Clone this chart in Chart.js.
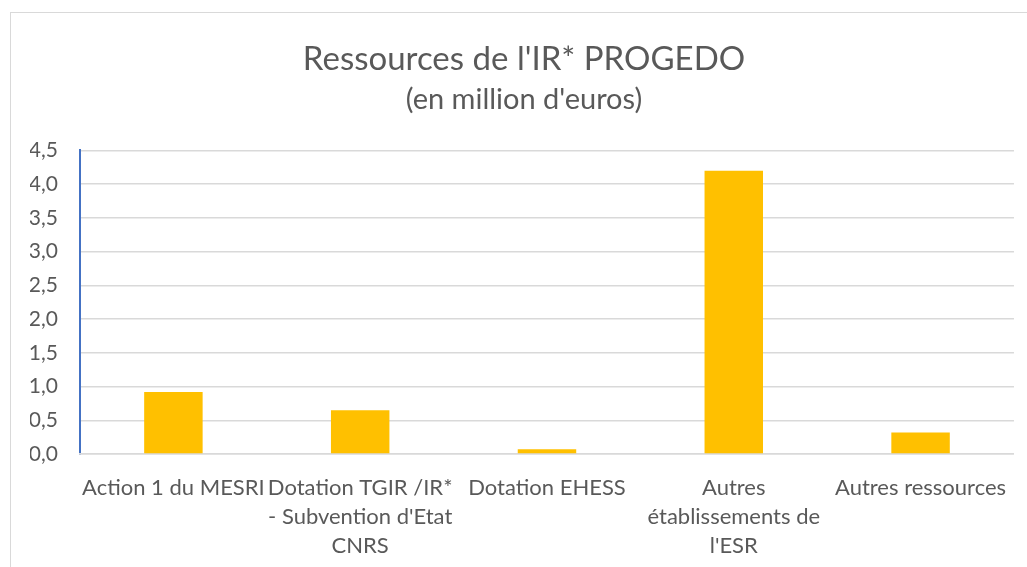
<!DOCTYPE html>
<html>
<head>
<meta charset="utf-8">
<script src="https://cdn.jsdelivr.net/npm/chart.js@4"></script>
<style>
  html, body { margin:0; padding:0; background:#fff; }
  #wrap { position:relative; width:1027px; height:567px; }
  #frame { position:absolute; left:10px; top:12px; width:1030px; height:600px; border:1px solid #D9D9D9; box-sizing:border-box; }
</style>
</head>
<body>
<div id="wrap">
  <div id="frame"></div>
  <canvas id="chart" width="1027" height="567"></canvas>
</div>
<script>
'use strict';

// ── Data ──────────────────────────────────────────────────────────────────────
const categories = [
  'Action 1 du MESRI',
  ['Dotation TGIR /IR*', "- Subvention d'Etat", 'CNRS'],
  'Dotation EHESS',
  ['Autres', 'établissements de', "l'ESR"],
  'Autres ressources'
];
const values = [0.92, 0.65, 0.07, 4.2, 0.32];
const yTicks = [0, 0.5, 1, 1.5, 2, 2.5, 3, 3.5, 4, 4.5];

const FONT = 'Lato, "Open Sans", sans-serif';
const TXT = '#595959';

new Chart(document.getElementById('chart'), {
  type: 'bar',
  data: {
    labels: categories,
    datasets: [{
      label: 'Ressources',
      data: values,
      backgroundColor: '#FFC000',
      barPercentage: 0.313,
      categoryPercentage: 1
    }]
  },
  options: {
    responsive: false, animation: false,
    layout: { padding: { left: 30, right: 9, top: 0, bottom: 0 } },
    plugins: {
      legend: { display: false },
      tooltip: { enabled: false },
      title: {
        display: true, text: "Ressources de l'IR* PROGEDO", color: TXT,
        font: { family: FONT, size: 33, weight: 'normal' },
        padding: { top: 40, bottom: 3 }
      },
      subtitle: {
        display: true, text: "(en million d'euros)", color: TXT,
        font: { family: FONT, size: 29, weight: 'normal' },
        padding: { top: 0, bottom: 33 }
      }
    },
    scales: {
      y: {
        min: 0, max: 4.5,
        afterBuildTicks: s => { s.ticks = yTicks.map(v => ({ value: v })); },
        afterFit: s => { s.width = 50; },
        ticks: {
          color: TXT, padding: 22,
          font: { family: FONT, size: 21 },
          callback: v => v.toFixed(1).replace('.', ',')
        },
        grid: { color: '#D9D9D9', lineWidth: 1.5, drawTicks: false },
        border: { color: '#4472C4', width: 2 }
      },
      x: {
        afterFit: s => { s.height = 113; },
        ticks: {
          color: TXT, padding: 20, maxRotation: 0, autoSkip: false,
          font: { family: FONT, size: 22, lineHeight: 1.3 }
        },
        grid: { display: false, drawTicks: false },
        border: { color: '#D9D9D9', width: 1.5 }
      }
    }
  }
});
</script>
</body>
</html>
